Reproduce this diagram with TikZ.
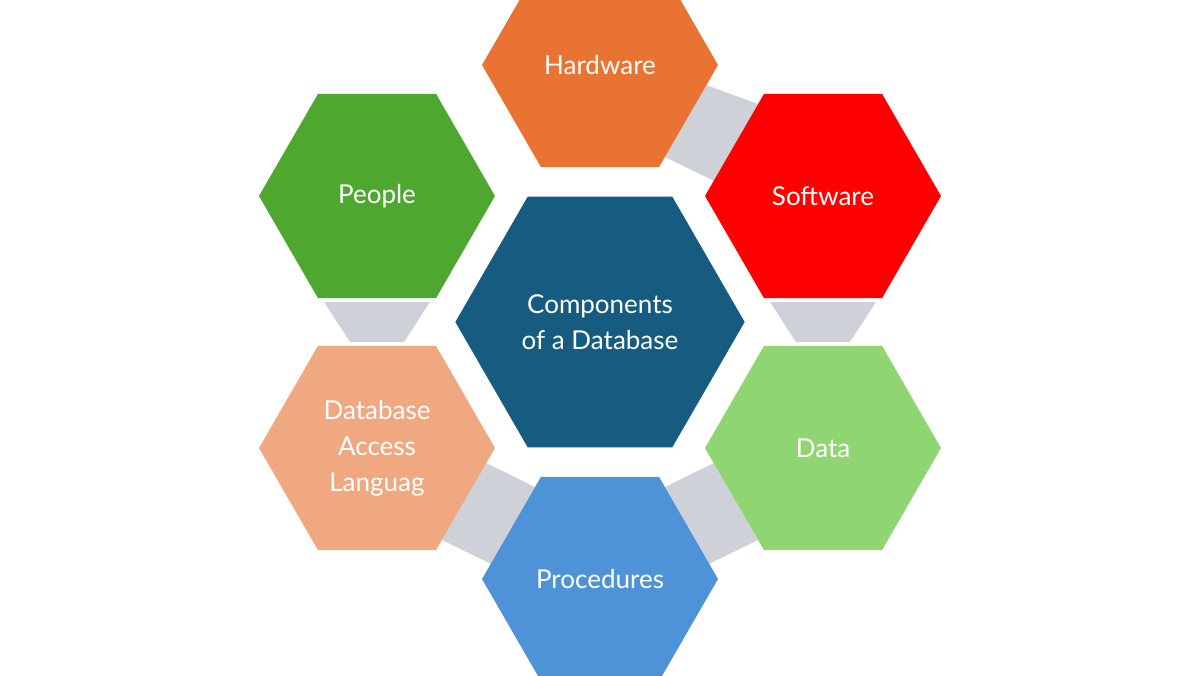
\documentclass[tikz,border=0pt]{standalone}
\usepackage{fontspec}
\setmainfont{Lato}
\usetikzlibrary{shapes.geometric}
\definecolor{hw}{RGB}{232,115,51}
\definecolor{sw}{RGB}{255,0,0}
\definecolor{pp}{RGB}{78,167,46}
\definecolor{dt}{RGB}{143,214,114}
\definecolor{ct}{RGB}{22,92,128}
\definecolor{pr}{RGB}{78,147,216}
\definecolor{da}{RGB}{240,168,128}
\definecolor{gl}{RGB}{206,210,216}
\tikzset{hex/.style={regular polygon,regular polygon sides=6,minimum size=177pt,inner sep=0pt,text=white,font=\fontsize{19.5}{27}\selectfont,align=center},
 link/.style={fill=gl}}
\begin{document}
\begin{tikzpicture}[x=0.75pt,y=-0.75pt]
\useasboundingbox (0,0) rectangle (1200,675);
\begin{scope}
\clip (0,0) rectangle (1200,675);
\fill[link] (706,85)--(758,104)--(714,181)--(665,157)--cycle;
\fill[link] (770,302)--(876,302)--(850,342)--(796,342)--cycle;
\fill[link] (324,302)--(430,302)--(404,342)--(350,342)--cycle;
\fill[link] (486,463)--(535,487)--(491,564)--(442,540)--cycle;
\fill[link] (714,463)--(665,487)--(709,564)--(758,540)--cycle;
\node[hex,fill=hw] (hard) at (600,65) {Hardware};
\node[hex,fill=sw] (soft) at (823,196) {Software};
\node[hex,fill=pp] (peop) at (377,196) {People};
\node[hex,fill=dt] (data) at (823,448) {Data};
\node[hex,fill=da] (dbal) at (377,448) {Database\\Access\\Languag};
\node[hex,fill=pr] (proc) at (600,579) {Procedures};
\node[hex,fill=ct,minimum size=217pt] (comp) at (600,322) {Components\\of a Database};
\end{scope}
\end{tikzpicture}
\end{document}
